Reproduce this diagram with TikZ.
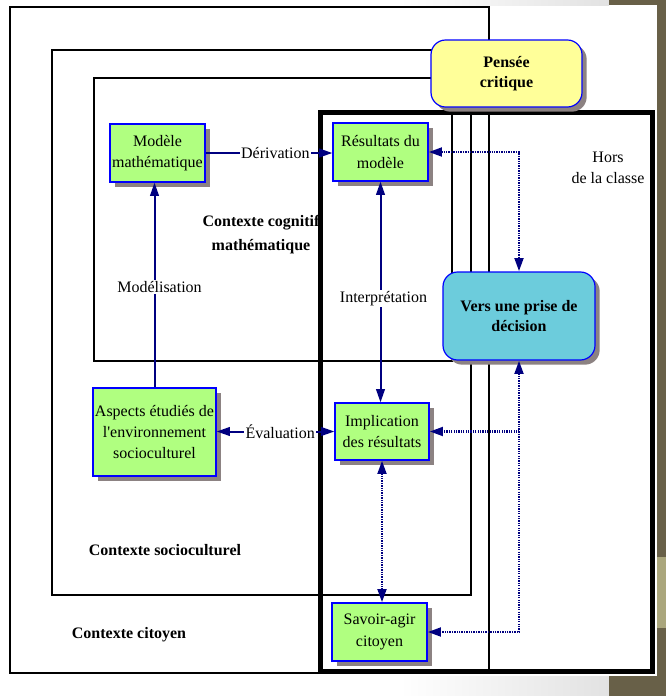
\documentclass[tikz,border=0pt]{standalone}
\usepackage{fontspec}
\setmainfont{Liberation Serif}
\usetikzlibrary{arrows.meta,shadows}
\definecolor{marine}{RGB}{0,0,128}
\definecolor{vertboite}{RGB}{176,255,128}
\definecolor{jauneboite}{RGB}{255,255,153}
\definecolor{cyanboite}{RGB}{108,204,220}
\definecolor{ombre}{RGB}{140,130,130}
\definecolor{bandeau}{RGB}{104,96,72}
\definecolor{bandeauclair}{RGB}{170,166,124}
\definecolor{grisfond}{RGB}{226,226,226}
\begin{document}
\begin{tikzpicture}[x=0.75pt,y=-0.75pt,
    every node/.style={font=\fontsize{12}{16}\selectfont},
    etape/.style={draw=blue, line width=0.9pt, fill=vertboite, align=center,
        minimum width=71.25pt, minimum height=43.5pt, inner sep=1pt,
        drop shadow={shadow xshift=3.5pt, shadow yshift=-3.5pt, fill=ombre, opacity=1}},
    bulle/.style={etape, rounded corners=11pt, font=\bfseries\fontsize{12}{15}\selectfont},
    titre/.style={align=center, font=\bfseries\fontsize{12}{18}\selectfont},
    cadre/.style={line width=2.2pt},
    etiq/.style={fill=white, inner sep=1pt},
    fleche/.style={draw=marine, line width=1.5pt, -{Triangle[length=10pt,width=6.5pt]}},
    flechedouble/.style={fleche, {Triangle[length=10pt,width=6.5pt]}-{Triangle[length=10pt,width=6.5pt]}},
    pointille/.style={fleche, line width=2pt, dash pattern=on 1pt off 0.8pt},
    pointilledouble/.style={flechedouble, line width=2pt, dash pattern=on 1pt off 0.8pt}]
    \useasboundingbox (0,0) rectangle (666,696);
    % fond de la diapositive
    \fill[white] (0,0) rectangle (666,696);
    \shade[left color=white, right color=grisfond] (400,0) rectangle (609,5);
    \shade[left color=white, right color=grisfond] (400,676) rectangle (609,696);
    \fill[bandeau] (609,0) rectangle (666,5);
    \fill[bandeau] (657,0) rectangle (666,696);
    \fill[bandeau] (609,676) rectangle (666,696);
    \fill[bandeauclair] (657,557) rectangle (666,628);
    % contextes
    \draw[cadre] (10,7) rectangle (489,673);
    \draw[cadre] (52,50) rectangle (471,595);
    \draw[cadre] (94,78) rectangle (452,361);
    \node[titre] (lcognitif) at (261,235) {Contexte cognitif\\mathématique};
    \draw[line width=3.75pt] (320,112) rectangle (652,671);
    \node[titre] (lsocio) at (165,550) {Contexte socioculturel};
    \node[titre] (lcitoyen) at (129,635) {Contexte citoyen};
    \node[align=center] (lhors) at (608,168) {Hors\\de la classe};
    % boites
    \node[etape] (modele) at (157.5,153) {Modèle\\mathématique};
    \node[etape] (resultats) at (380.5,152) {Résultats du\\modèle};
    \node[etape, minimum width=92.25pt, minimum height=66pt] (aspects) at (154.5,432)
        {Aspects étudiés de\\l\textquotesingle environnement\\socioculturel};
    \node[etape, minimum width=70.5pt, minimum height=42.75pt] (implication) at (382,431.5)
        {Implication\\des résultats};
    \node[etape] (savoir) at (379.5,632) {Savoir-agir\\citoyen};
    \node[bulle, fill=cyanboite, minimum width=114pt, minimum height=66pt] (decision) at (519,316)
        {Vers une prise de\\décision};
    \node[bulle, fill=jauneboite, minimum width=113.25pt, minimum height=50.25pt] (pensee) at (506.5,73.5)
        {Pensée\\critique};
    % fleches
    \draw[fleche] (modele.east) -- node[etiq, pos=0.55] (lderiv) {Dérivation} (modele.east -| resultats.west);
    \draw[fleche] (aspects.north) -- node[etiq, pos=0.49, xshift=3.75pt] (lmodel) {Modélisation}
        (aspects.north |- modele.south);
    \draw[flechedouble] (resultats.south) -- node[etiq, pos=0.53, xshift=2.25pt] (linterp) {Interprétation}
        (resultats.south |- implication.north);
    \draw[flechedouble] (implication.west) -- node[etiq, pos=0.46] (leval) {Évaluation}
        (implication.west -| aspects.east);
    \draw[pointilledouble] (resultats.east) -- (decision.north |- resultats.east) -- (decision.north);
    \coordinate (coude) at (decision.south |- implication.east);
    \draw[pointilledouble] (decision.south) -- (coude) -- (implication.east);
    \draw[pointille] (coude) -- (coude |- savoir.east) -- (savoir.east);
    \draw[pointilledouble] (implication.south) -- (implication.south |- savoir.north);
\end{tikzpicture}
\end{document}
